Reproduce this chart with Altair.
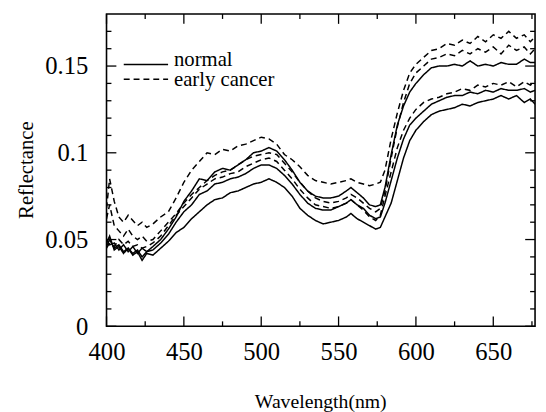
import altair as alt
import pandas as pd

wavelength = [400, 402, 405, 408, 411, 414, 417, 420, 423, 426,
              430, 435, 440, 445, 450, 455, 460, 465, 470, 475,
              480, 485, 490, 495, 500, 505, 510, 515, 520, 525,
              530, 535, 540, 545, 550, 555, 558, 562, 566, 570,
              574, 577, 580, 584, 588, 592, 596, 600, 605, 610,
              615, 620, 625, 630, 635, 640, 645, 650, 655, 660,
              665, 670, 674, 677]

cancer_1 = [0.068, 0.085, 0.072, 0.063, 0.060, 0.064, 0.061, 0.058, 0.060, 0.057,
            0.059, 0.063, 0.066, 0.074, 0.083, 0.090, 0.095, 0.100, 0.099, 0.102,
            0.101, 0.104, 0.105, 0.107, 0.109, 0.108, 0.105, 0.099, 0.096, 0.092,
            0.087, 0.084, 0.083, 0.082, 0.083, 0.084, 0.085, 0.083, 0.082, 0.081,
            0.082, 0.083, 0.090, 0.108, 0.123, 0.136, 0.146, 0.151, 0.155, 0.159,
            0.160, 0.163, 0.162, 0.165, 0.163, 0.167, 0.164, 0.168, 0.166, 0.170,
            0.166, 0.168, 0.164, 0.167]
cancer_2 = [0.062, 0.070, 0.058, 0.055, 0.052, 0.056, 0.052, 0.050, 0.052, 0.049,
            0.050, 0.055, 0.060, 0.065, 0.071, 0.076, 0.080, 0.084, 0.087, 0.089,
            0.090, 0.093, 0.096, 0.098, 0.099, 0.100, 0.099, 0.094, 0.089, 0.083,
            0.078, 0.074, 0.072, 0.071, 0.072, 0.074, 0.076, 0.074, 0.071, 0.068,
            0.066, 0.068, 0.078, 0.097, 0.115, 0.129, 0.140, 0.146, 0.150, 0.154,
            0.155, 0.157, 0.156, 0.159, 0.157, 0.160, 0.158, 0.161, 0.157, 0.162,
            0.159, 0.161, 0.157, 0.160]
cancer_3 = [0.045, 0.048, 0.046, 0.050, 0.047, 0.049, 0.046, 0.047, 0.045, 0.046,
            0.048, 0.052, 0.058, 0.064, 0.069, 0.074, 0.079, 0.082, 0.085, 0.086,
            0.088, 0.089, 0.092, 0.094, 0.096, 0.097, 0.095, 0.090, 0.085, 0.079,
            0.074, 0.070, 0.069, 0.068, 0.069, 0.071, 0.073, 0.070, 0.067, 0.063,
            0.061, 0.064, 0.075, 0.089, 0.103, 0.113, 0.120, 0.125, 0.129, 0.131,
            0.132, 0.134, 0.135, 0.137, 0.136, 0.139, 0.138, 0.140, 0.139, 0.141,
            0.138, 0.141, 0.139, 0.141]
normal_1 = [0.050, 0.047, 0.048, 0.044, 0.047, 0.043, 0.046, 0.042, 0.045, 0.043,
            0.046, 0.050, 0.056, 0.063, 0.072, 0.078, 0.085, 0.084, 0.089, 0.091,
            0.090, 0.093, 0.096, 0.100, 0.101, 0.103, 0.101, 0.096, 0.090, 0.083,
            0.078, 0.075, 0.074, 0.074, 0.075, 0.078, 0.080, 0.077, 0.074, 0.070,
            0.069, 0.070, 0.080, 0.099, 0.116, 0.127, 0.135, 0.140, 0.145, 0.149,
            0.150, 0.150, 0.151, 0.150, 0.153, 0.150, 0.151, 0.150, 0.152, 0.151,
            0.151, 0.154, 0.152, 0.152]
normal_2 = [0.046, 0.050, 0.045, 0.047, 0.043, 0.045, 0.042, 0.044, 0.040, 0.043,
            0.044, 0.048, 0.053, 0.060, 0.066, 0.070, 0.076, 0.078, 0.082, 0.083,
            0.085, 0.086, 0.088, 0.091, 0.093, 0.093, 0.091, 0.087, 0.082, 0.076,
            0.071, 0.068, 0.067, 0.067, 0.069, 0.071, 0.073, 0.070, 0.068, 0.064,
            0.062, 0.063, 0.071, 0.084, 0.097, 0.108, 0.116, 0.120, 0.124, 0.128,
            0.130, 0.132, 0.133, 0.133, 0.135, 0.134, 0.136, 0.135, 0.137, 0.136,
            0.136, 0.137, 0.135, 0.136]
normal_3 = [0.048, 0.052, 0.044, 0.046, 0.042, 0.045, 0.041, 0.043, 0.038, 0.042,
            0.041, 0.045, 0.049, 0.054, 0.057, 0.062, 0.066, 0.070, 0.073, 0.074,
            0.077, 0.078, 0.080, 0.082, 0.083, 0.085, 0.083, 0.080, 0.075, 0.068,
            0.064, 0.061, 0.059, 0.060, 0.061, 0.063, 0.065, 0.062, 0.060, 0.058,
            0.056, 0.057, 0.063, 0.071, 0.084, 0.097, 0.107, 0.113, 0.118, 0.122,
            0.124, 0.125, 0.126, 0.128, 0.127, 0.129, 0.130, 0.131, 0.133, 0.131,
            0.133, 0.129, 0.131, 0.128]

legend_labels = ["normal", "early cancer"]
x_major = [400, 450, 500, 550, 600, 650]
x_minor = [425, 475, 525, 575, 625, 675]
y_major = [0, 0.05, 0.1, 0.15]
y_minor = [0.01, 0.02, 0.03, 0.04, 0.06, 0.07, 0.08, 0.09,
           0.11, 0.12, 0.13, 0.14, 0.16, 0.17]
y_label_map = "datum.value == 0 ? '0' : datum.value == 0.05 ? '0.05' : datum.value == 0.1 ? '0.1' : '0.15'"

series = [
    ("normal_1", "normal", normal_1),
    ("normal_2", "normal", normal_2),
    ("normal_3", "normal", normal_3),
    ("cancer_1", "early cancer", cancer_1),
    ("cancer_2", "early cancer", cancer_2),
    ("cancer_3", "early cancer", cancer_3),
]
rows = []
for name, group, vals in series:
    for w, r in zip(wavelength, vals):
        rows.append({"wl": w, "R": r, "series": name, "group": group})
df = pd.DataFrame(rows)

W, H = 435, 317
FONT = "Liberation Serif"
DASH = [6, 4]

xscale = alt.Scale(domain=[400, 677], nice=False, zero=False)
yscale = alt.Scale(domain=[0, 0.18], nice=False, zero=True)
xaxis = alt.Axis(values=x_major, title="Wavelength(nm)", grid=False, domain=False,
                 ticks=False, labelFont=FONT, labelFontSize=25, labelColor="black",
                 labelPadding=14, labelFlush=False, titleFont=FONT, titleFontSize=20,
                 titleFontWeight="normal", titleColor="black", titleX=217,
                 titleY=82, titleBaseline="alphabetic", titleAnchor="middle")
yaxis = alt.Axis(values=y_major, title="Reflectance", grid=False, domain=False,
                 ticks=False, labelFont=FONT, labelFontSize=25, labelColor="black",
                 labelPadding=19, labelFlush=False, labelExpr=y_label_map,
                 titleFont=FONT, titleFontSize=21, titleFontWeight="normal",
                 titleColor="black", titleAngle=270, titleX=-75, titleY=158,
                 titleAlign="center", titleBaseline="alphabetic")


def X(field="wl"):
    return alt.X(f"{field}:Q", scale=xscale, axis=xaxis)


def Y(field="R"):
    return alt.Y(f"{field}:Q", scale=yscale, axis=yaxis)


lines = alt.Chart(df).mark_line(color="black", strokeWidth=1.5, clip=True).encode(
    x=X(), y=Y(), detail="series:N",
    strokeDash=alt.StrokeDash("group:N", scale=alt.Scale(domain=legend_labels,
                              range=[[1, 0], DASH]), legend=None),
)

layers = [lines]
for vals, ln in ((x_major, 10), (x_minor, 5)):
    d = pd.DataFrame({"wl": vals})
    layers.append(alt.Chart(d).mark_rule(color="black", strokeWidth=1.3).encode(
        x=X(), y=alt.value(H), y2=alt.value(H - ln)))
    layers.append(alt.Chart(d).mark_rule(color="black", strokeWidth=1.3).encode(
        x=X(), y=alt.value(0), y2=alt.value(ln)))
for vals, ln in ((y_major, 10), (y_minor, 5)):
    d = pd.DataFrame({"R": vals})
    layers.append(alt.Chart(d).mark_rule(color="black", strokeWidth=1.3).encode(
        y=Y(), x=alt.value(0), x2=alt.value(ln)))
    layers.append(alt.Chart(d).mark_rule(color="black", strokeWidth=1.3).encode(
        y=Y(), x=alt.value(W), x2=alt.value(W - ln)))

leg_pos = [(51.3, 52.5), (66.3, 73)]
for lab, (ly, ty) in zip(legend_labels, leg_pos):
    d = pd.DataFrame({"label": [lab]})
    dash = [1, 0] if lab == "normal" else DASH
    layers.append(alt.Chart(d).mark_rule(color="black", strokeWidth=1.5,
                                         strokeDash=dash).encode(
        x=alt.value(17.5), x2=alt.value(62.5), y=alt.value(ly)))
    layers.append(alt.Chart(d).mark_text(font=FONT, fontSize=21, color="black",
                                         align="left", baseline="alphabetic").encode(
        x=alt.value(68.5), y=alt.value(ty), text="label:N"))

chart = alt.layer(*layers).properties(
    width=W, height=H,
    autosize=alt.AutoSizeParams(type="none"),
    padding={"left": 100, "top": 3, "right": 3, "bottom": 90},
    background="white",
).configure_view(stroke="black", strokeWidth=1.6)

chart.save("out.html", embed_options={"renderer": "svg", "actions": False})
